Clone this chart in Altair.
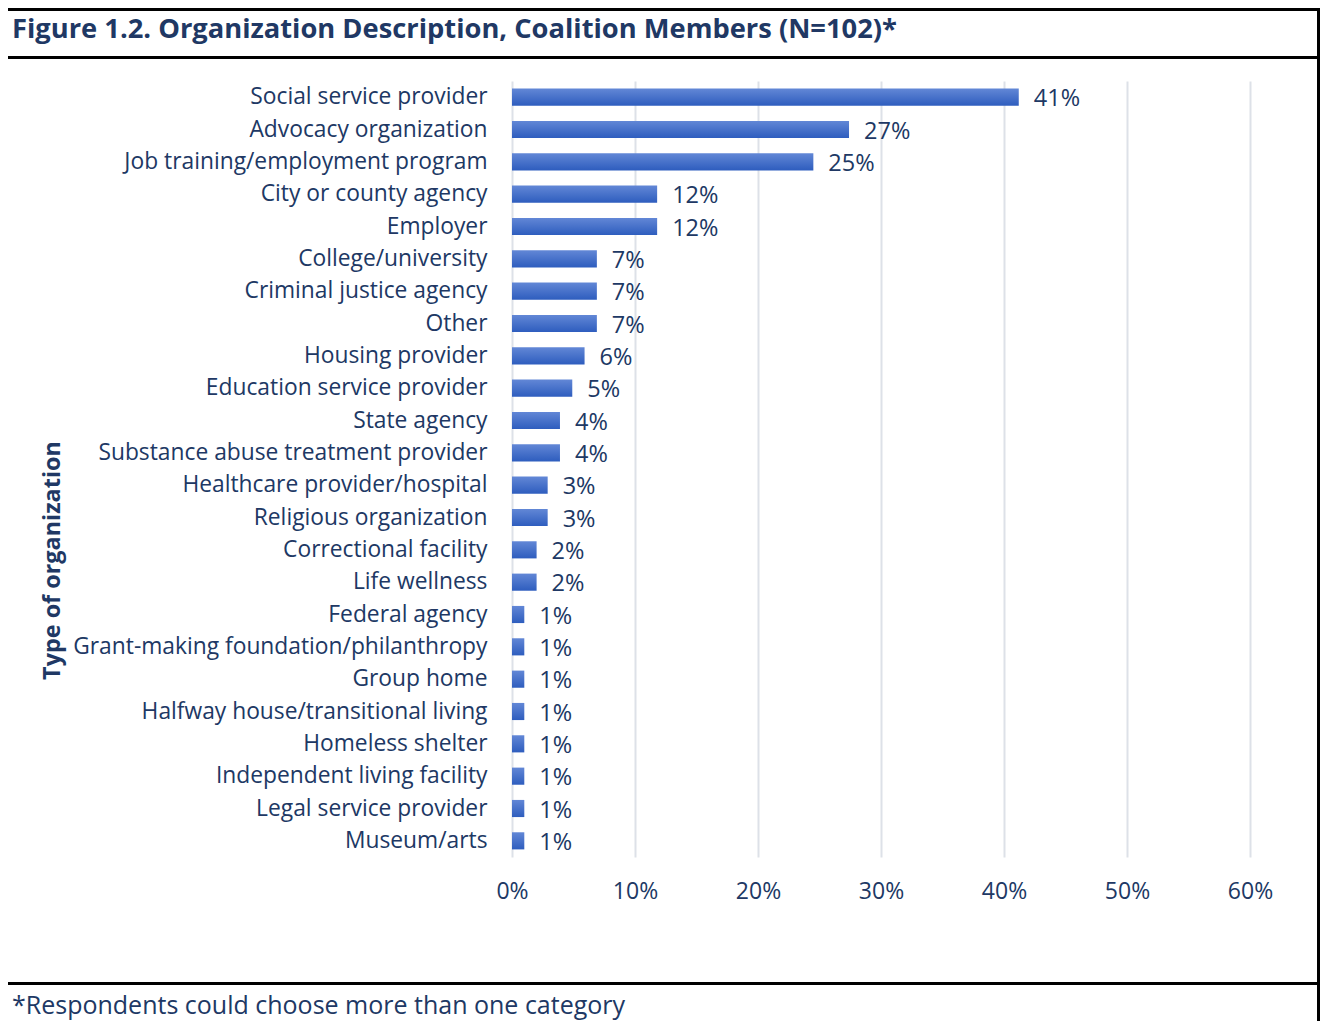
import altair as alt
import pandas as pd

categories = [
    "Social service provider",
    "Advocacy organization",
    "Job training/employment program\u00a0",
    "City or county agency",
    "Employer",
    "College/university",
    "Criminal justice agency",
    "Other\u00a0",
    "Housing provider",
    "Education service provider",
    "State agency",
    "Substance abuse treatment provider",
    "Healthcare provider/hospital",
    "Religious organization",
    "Correctional facility",
    "Life wellness",
    "Federal agency",
    "Grant-making foundation/philanthropy",
    "Group home",
    "Halfway house/transitional living",
    "Homeless shelter",
    "Independent living facility",
    "Legal service provider",
    "Museum/arts",
]
values = [41.2, 27.4, 24.5, 11.8, 11.8, 6.9, 6.9, 6.9, 5.9, 4.9, 3.9, 3.9,
          2.9, 2.9, 2.0, 2.0, 1.0, 1.0, 1.0, 1.0, 1.0, 1.0, 1.0, 1.0]
value_labels = ["41%", "27%", "25%", "12%", "12%", "7%", "7%", "7%", "6%", "5%",
                "4%", "4%", "3%", "3%", "2%", "2%", "1%", "1%", "1%", "1%",
                "1%", "1%", "1%", "1%"]
x_ticks = [0, 10, 20, 30, 40, 50, 60]

title_text = "Figure 1.2. Organization Description, Coalition Members (N=102)*"
footer_text = "*Respondents could choose more than one category"
y_title = "Type of organization"

FONT = "Open Sans"
NAVY = "#203864"

df = pd.DataFrame({"category": categories, "value": values, "label": value_labels})

x_enc = alt.X(
    "value:Q",
    scale=alt.Scale(domain=[0, 60], nice=False),
    axis=alt.Axis(
        values=x_ticks, labelExpr="datum.value + '%'", title=None,
        domain=False, ticks=False, grid=True, gridColor="#DDE1E8", gridWidth=2,
        labelFont=FONT, labelFontSize=23, labelColor=NAVY, labelPadding=23,
        labelFlush=False,
    ),
)
y_enc = alt.Y(
    "category:N", sort=categories,
    scale=alt.Scale(paddingInner=0.47, paddingOuter=0.235),
    axis=alt.Axis(
        title=y_title, domain=False, ticks=False, labelPadding=25,
        labelFont=FONT, labelFontSize=22.8, labelColor=NAVY, labelLimit=600,
        titleFont=FONT, titleFontSize=23.4, titleFontWeight="bold", titleColor=NAVY,
        titleX=-460, titleY=479, titleAngle=270, titleAlign="center", titleBaseline="middle",
    ),
)

grad = alt.Gradient(
    gradient="linear", x1=0, y1=0, x2=0, y2=1,
    stops=[alt.GradientStop(color="#6287D6", offset=0),
           alt.GradientStop(color="#2E5DBE", offset=1)],
)

bars = alt.Chart(df).mark_bar(color=grad).encode(x=x_enc, y=y_enc)
labels = alt.Chart(df).mark_text(
    align="left", baseline="middle", dx=15, dy=2, font=FONT, fontSize=23.5, color=NAVY
).encode(x="value:Q", y=alt.Y("category:N", sort=categories), text="label:N")

deco = pd.DataFrame({"k": [0]})
line_style = dict(color="black", strokeWidth=3)
top_line = alt.Chart(deco).mark_rule(**line_style).encode(
    x=alt.value(-510), x2=alt.value(810), y=alt.value(-71.5))
mid_line = alt.Chart(deco).mark_rule(**line_style).encode(
    x=alt.value(-510), x2=alt.value(810), y=alt.value(-23.5))
low_line = alt.Chart(deco).mark_rule(**line_style).encode(
    x=alt.value(-510), x2=alt.value(810), y=alt.value(902.5))
right_line = alt.Chart(deco).mark_rule(**line_style).encode(
    x=alt.value(806.5), y=alt.value(-73), y2=alt.value(960))

title = alt.Chart(deco).mark_text(
    align="left", baseline="alphabetic", font=FONT, fontSize=27.3, fontWeight="bold", color=NAVY
).encode(x=alt.value(-500), y=alt.value(-43), text=alt.value(title_text))
footer = alt.Chart(deco).mark_text(
    align="left", baseline="alphabetic", font=FONT, fontSize=25, color=NAVY
).encode(x=alt.value(-500), y=alt.value(933), text=alt.value(footer_text))

chart = alt.layer(
    bars, labels, top_line, mid_line, low_line, right_line, title, footer
).properties(
    width=738, height=776,
    padding={"left": 504, "top": 73, "right": 70, "bottom": 164},
    autosize=alt.AutoSizeParams(type="none"),
).configure_view(stroke=None)

chart.save("out.html", embed_options={"renderer": "svg", "actions": False})
